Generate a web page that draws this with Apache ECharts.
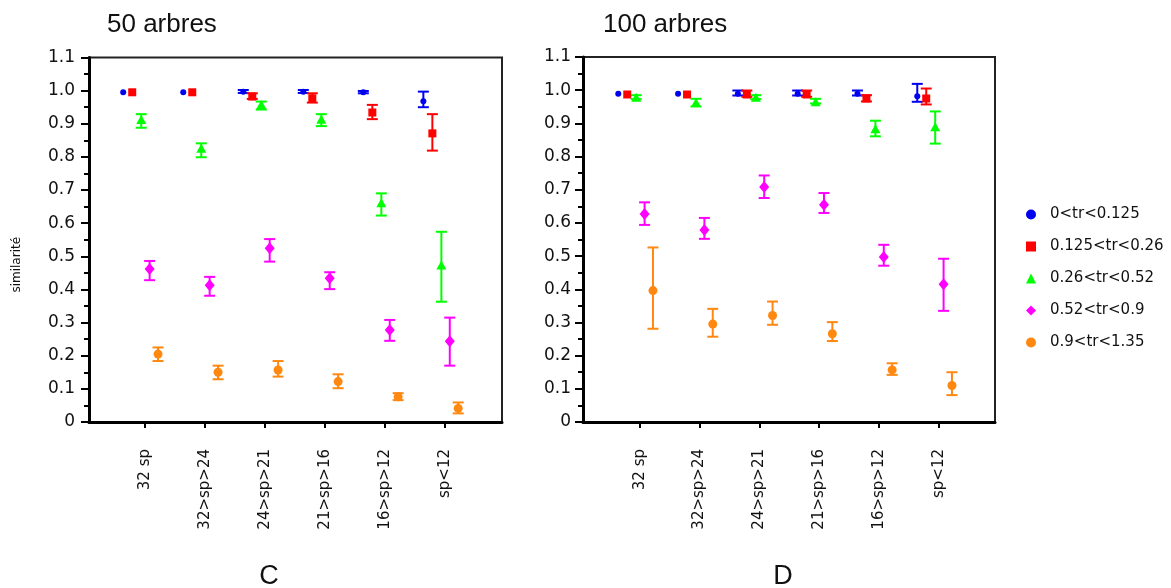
<!DOCTYPE html>
<html>
<head>
<meta charset="utf-8">
<script src="https://cdn.jsdelivr.net/npm/echarts@6/dist/echarts.min.js"></script>
<style>html,body{margin:0;padding:0;background:#fff}#c{width:1171px;height:588px}</style>
</head>
<body>
<div id="c"></div>
<script>
const categories = ['32 sp','32>sp>24','24>sp>21','21>sp>16','16>sp>12','sp<12'];
const seriesNames = ['0<tr<0.125','0.125<tr<0.26','0.26<tr<0.52','0.52<tr<0.9','0.9<tr<1.35'];
const panelTitles = ['50 arbres','100 arbres'];
const panelLetters = ['C','D'];

// 50 arbres : [moyenne, bas, haut]
const a50_s1 = [[0.995,0.993,0.997],[0.995,0.993,0.997],[0.997,0.993,1.002],[0.997,0.993,1.002],[0.995,0.992,0.999],[0.968,0.950,0.997]];
const a50_s2 = [[0.995,0.992,0.998],[0.995,0.992,0.998],[0.982,0.975,0.992],[0.977,0.964,0.992],[0.934,0.914,0.957],[0.871,0.819,0.929]];
const a50_s3 = [[0.913,0.888,0.929],[0.826,0.799,0.841],[0.958,0.943,0.967],[0.914,0.893,0.929],[0.662,0.623,0.690],[0.474,0.363,0.574]];
const a50_s4 = [[0.462,0.428,0.486],[0.413,0.381,0.438],[0.524,0.484,0.552],[0.434,0.401,0.452],[0.278,0.245,0.308],[0.244,0.170,0.315]];
const a50_s5 = [[0.205,0.184,0.225],[0.150,0.129,0.170],[0.157,0.137,0.184],[0.122,0.102,0.144],[0.076,0.066,0.087],[0.041,0.026,0.059]];

// 100 arbres : [moyenne, bas, haut]
const a100_s1 = [[0.989,0.988,0.990],[0.989,0.988,0.990],[0.989,0.984,0.999],[0.989,0.984,0.999],[0.989,0.984,0.999],[0.982,0.965,1.019]];
const a100_s2 = [[0.987,0.986,0.988],[0.987,0.986,0.988],[0.987,0.980,0.999],[0.987,0.980,0.999],[0.975,0.966,0.985],[0.975,0.957,1.005]];
const a100_s3 = [[0.979,0.973,0.985],[0.963,0.951,0.974],[0.979,0.973,0.985],[0.965,0.960,0.974],[0.884,0.861,0.908],[0.890,0.839,0.936]];
const a100_s4 = [[0.627,0.594,0.662],[0.579,0.552,0.615],[0.708,0.675,0.743],[0.655,0.630,0.690],[0.497,0.471,0.534],[0.415,0.335,0.492]];
const a100_s5 = [[0.396,0.281,0.526],[0.295,0.257,0.341],[0.321,0.293,0.363],[0.266,0.244,0.301],[0.157,0.142,0.177],[0.110,0.081,0.150]];

const panels = [[a50_s1,a50_s2,a50_s3,a50_s4,a50_s5],[a100_s1,a100_s2,a100_s3,a100_s4,a100_s5]];

const colors = ['#0000f0','#ff0000','#00ff00','#ff00ff','#ff8811'];
const symbols = ['circle','rect','triangle','diamond','circle'];
const symbolSizes = [6,8,[10,9],[10,12],9];
const dodge = [-0.36,-0.21,-0.06,0.08,0.22];
const xRange = [[0.07,6.95],[0.05,6.94]];
const tickPos = [1,2,3,4,5,6];

const axisFont = 'DejaVu Sans';
const chart = echarts.init(document.getElementById('c'));

const scatterSeries = [];
const errSeries = [];
panels.forEach((panel, p) => {
  panel.forEach((arr, s) => {
    scatterSeries.push({
      type: 'scatter', name: seriesNames[s], xAxisIndex: p, yAxisIndex: p,
      symbol: symbols[s], symbolSize: symbolSizes[s],
      itemStyle: {color: colors[s], opacity: 1},
      z: 5,
      data: arr.map((d, i) => [tickPos[i] + dodge[s], d[0]])
    });
    errSeries.push({
      type: 'custom', name: seriesNames[s] + ' err', xAxisIndex: p, yAxisIndex: p, z: 4,
      data: arr.map((d, i) => [tickPos[i] + dodge[s], d[1], d[2]]),
      renderItem: (params, api) => {
        const x = api.value(0);
        const lo = api.coord([x, api.value(1)]);
        const hi = api.coord([x, api.value(2)]);
        if (Math.abs(lo[1] - hi[1]) < 2) return {type: 'group', children: []};
        const w = 5.5;
        const st = {stroke: colors[s], lineWidth: 2};
        return {type: 'group', children: [
          {type: 'line', shape: {x1: lo[0], y1: lo[1], x2: hi[0], y2: hi[1]}, style: st},
          {type: 'line', shape: {x1: lo[0]-w, y1: lo[1], x2: lo[0]+w, y2: lo[1]}, style: st},
          {type: 'line', shape: {x1: hi[0]-w, y1: hi[1], x2: hi[0]+w, y2: hi[1]}, style: st}
        ]};
      }
    });
  });
});

function xAxisFor(p) {
  return {
    type: 'value', gridIndex: p, min: xRange[p][0], max: xRange[p][1],
    axisLine: {show: true, onZero: false, lineStyle: {color: '#000', width: 3}},
    axisTick: {show: true, customValues: tickPos, length: 6, inside: false, lineStyle: {color: '#000', width: 2}},
    axisLabel: {show: true, customValues: tickPos, rotate: 90, margin: 27,
      formatter: v => categories[Math.round(v) - 1] || '',
      fontFamily: axisFont, fontSize: 15, color: '#111'},
    splitLine: {show: false}
  };
}
function yAxisFor(p) {
  return {
    type: 'value', gridIndex: p, min: 0, max: 1.1, interval: 0.1,
    name: p === 0 ? 'similarité' : '', nameLocation: 'middle', nameGap: 66,
    nameTextStyle: {fontFamily: axisFont, fontSize: 12, color: '#111', padding: [0, 50, 0, 0]},
    axisLine: {show: true, lineStyle: {color: '#000', width: 3}},
    axisTick: {show: true, length: 8, lineStyle: {color: '#000', width: 2}},
    minorTick: {show: true, splitNumber: 2, length: 5, lineStyle: {color: '#000', width: 2}},
    axisLabel: {margin: p === 0 ? 14 : 12, fontFamily: axisFont, fontSize: 17, color: '#111',
      formatter: v => (Math.abs(v) < 1e-9 ? '0' : v.toFixed(1))},
    splitLine: {show: false}
  };
}

const titleStyle = {fontFamily: 'Liberation Sans', fontSize: 26, fontWeight: 'normal', color: '#111'};
chart.setOption({
  animation: false,
  backgroundColor: '#fff',
  title: [
    {text: panelTitles[0], left: 102, top: 7, textStyle: titleStyle},
    {text: panelTitles[1], left: 598, top: 7, textStyle: titleStyle},
    {text: panelLetters[0], left: 264, top: 558, textAlign: 'center', textStyle: {fontFamily: 'Liberation Sans', fontSize: 27, fontWeight: 'normal', color: '#111'}},
    {text: panelLetters[1], left: 778, top: 558, textAlign: 'center', textStyle: {fontFamily: 'Liberation Sans', fontSize: 27, fontWeight: 'normal', color: '#111'}}
  ],
  legend: {
    orient: 'vertical', left: 1021, top: 202, itemWidth: 10, itemHeight: 10, itemGap: 17,
    data: seriesNames,
    textStyle: {fontFamily: axisFont, fontSize: 15, color: '#111', padding: [0, 0, 0, 9]}
  },
  grid: [
    {left: 89, top: 57.5, width: 413, height: 364.5, show: true, borderColor: '#222', borderWidth: 2, backgroundColor: 'transparent'},
    {left: 583, top: 57, width: 412, height: 365, show: true, borderColor: '#222', borderWidth: 2, backgroundColor: 'transparent'}
  ],
  xAxis: [xAxisFor(0), xAxisFor(1)],
  yAxis: [yAxisFor(0), yAxisFor(1)],
  series: scatterSeries.concat(errSeries)
});
</script>
</body>
</html>
